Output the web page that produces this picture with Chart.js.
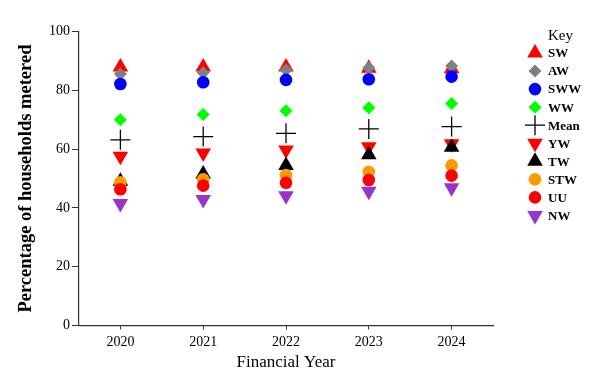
<!DOCTYPE html>
<html>
<head>
<meta charset="utf-8">
<script src="https://cdn.jsdelivr.net/npm/chart.js@4.4.1/dist/chart.umd.min.js"></script>
<style>
  html, body { margin: 0; padding: 0; background: #fff; }
  #wrap { width: 602px; height: 383px; position: relative; }
</style>
</head>
<body>
<div id="wrap"><canvas id="c" width="602" height="383"></canvas></div>
<script>
const years = ['2020', '2021', '2022', '2023', '2024'];
const yTicks = [0, 20, 40, 60, 80, 100];

const SW   = [88.0, 88.0, 88.0, 87.6, 87.4];
const AW   = [85.6, 86.0, 87.0, 87.7, 88.3];
const SWW  = [82.2, 82.8, 83.6, 83.8, 84.7];
const WW   = [70.0, 71.8, 73.1, 74.1, 75.6];
const MEAN = [63.2, 64.3, 65.4, 66.9, 67.7];
const YW   = [57.6, 58.7, 59.7, 60.8, 61.9];
const TW   = [49.1, 51.6, 54.5, 58.1, 60.7];
const STW  = [48.7, 49.8, 51.2, 52.3, 54.5];
const UU   = [46.4, 47.6, 48.6, 49.5, 51.0];
const NW   = [41.5, 42.9, 44.2, 45.7, 46.9];

const series = [
  { label: 'SW',   data: SW,   style: 'triangle', rot: 0,   color: '#FF0000', r: 9 },
  { label: 'AW',   data: AW,   style: 'rectRot',  rot: 0,   color: '#808080', r: 6.5 },
  { label: 'SWW',  data: SWW,  style: 'circle',   rot: 0,   color: '#0000FF', r: 6.3 },
  { label: 'WW',   data: WW,   style: 'rectRot',  rot: 0,   color: '#00FF00', r: 6.5 },
  { label: 'Mean', data: MEAN, style: 'cross',    rot: 0,   color: '#000000', r: 10, bw: 1.3 },
  { label: 'YW',   data: YW,   style: 'triangle', rot: 180, color: '#FF0000', r: 9 },
  { label: 'TW',   data: TW,   style: 'triangle', rot: 0,   color: '#000000', r: 9 },
  { label: 'STW',  data: STW,  style: 'circle',   rot: 0,   color: '#FF9900', r: 6.3 },
  { label: 'UU',   data: UU,   style: 'circle',   rot: 0,   color: '#FF0000', r: 6.3 },
  { label: 'NW',   data: NW,   style: 'triangle', rot: 180, color: '#9933CC', r: 9 }
];

const FONT = "'Liberation Serif', 'Times New Roman', serif";

const datasets = series.map((s, i) => ({
  label: s.label,
  data: s.data,
  showLine: false,
  pointStyle: s.style,
  pointRotation: s.rot,
  pointRadius: s.r,
  pointHoverRadius: s.r,
  pointBackgroundColor: s.color,
  pointBorderColor: s.color,
  pointBorderWidth: s.bw || 0,
  order: series.length - i
}));

function fallbackDrawPoint(ctx, o, x, y) {
  const r = o.radius, rad = (o.rotation || 0) * Math.PI / 180;
  ctx.beginPath();
  if (o.pointStyle === 'circle') {
    ctx.arc(x, y, r, 0, Math.PI * 2);
    ctx.fill();
  } else if (o.pointStyle === 'triangle') {
    let a = rad;
    ctx.moveTo(x + Math.sin(a) * r, y - Math.cos(a) * r);
    a += 2 * Math.PI / 3;
    ctx.lineTo(x + Math.sin(a) * r, y - Math.cos(a) * r);
    a += 2 * Math.PI / 3;
    ctx.lineTo(x + Math.sin(a) * r, y - Math.cos(a) * r);
    ctx.closePath();
    ctx.fill();
  } else if (o.pointStyle === 'rectRot') {
    ctx.moveTo(x, y - r); ctx.lineTo(x + r, y); ctx.lineTo(x, y + r); ctx.lineTo(x - r, y);
    ctx.closePath();
    ctx.fill();
  } else if (o.pointStyle === 'cross') {
    ctx.moveTo(x, y - r); ctx.lineTo(x, y + r);
    ctx.moveTo(x - r, y); ctx.lineTo(x + r, y);
    ctx.stroke();
  }
}

const keyLegend = {
  id: 'keyLegend',
  afterDraw(chart) {
    const ctx = chart.ctx;
    const area = chart.chartArea;
    const markerX = area.right + 42;
    const textX = area.right + 55;
    const firstY = 53;
    const step = 18.05;
    ctx.save();
    ctx.fillStyle = '#000';
    ctx.textBaseline = 'middle';
    ctx.textAlign = 'left';
    ctx.font = "15px " + FONT;
    ctx.fillText('Key', textX, 36);
    const dp = (Chart.helpers && Chart.helpers.drawPoint) ? Chart.helpers.drawPoint : null;
    series.forEach((s, i) => {
      const y = firstY + i * step;
      const opts = {
        pointStyle: s.style, rotation: s.rot, radius: s.r,
        borderWidth: s.bw || 0
      };
      ctx.save();
      ctx.fillStyle = s.color;
      ctx.strokeStyle = s.color;
      ctx.lineWidth = s.bw || 1;
      if (dp) dp(ctx, opts, markerX, y); else fallbackDrawPoint(ctx, opts, markerX, y);
      ctx.restore();
      ctx.fillStyle = '#000';
      ctx.font = "bold 13px " + FONT;
      ctx.fillText(s.label, textX, y + 1);
    });
    ctx.restore();
  }
};

new Chart(document.getElementById('c'), {
  type: 'line',
  data: { labels: years, datasets },
  options: {
    responsive: false,
    animation: false,
    devicePixelRatio: 1,
    layout: { padding: { left: 0, right: 109, top: 31.7, bottom: 0 } },
    plugins: {
      legend: { display: false },
      tooltip: { enabled: false }
    },
    scales: {
      x: {
        type: 'category',
        offset: true,
        afterFit: s => { s.height = 57.5; },
        grid: { display: true, drawOnChartArea: false, drawTicks: true, tickLength: 4, color: '#333', offset: false },
        border: { display: true, color: '#333', width: 1.2 },
        ticks: { color: '#000', font: { family: FONT, size: 14 }, padding: 4, maxRotation: 0 },
        title: { display: true, text: 'Financial Year', color: '#000',
                 font: { family: FONT, size: 17 }, padding: { top: 0, bottom: 10 } }
      },
      y: {
        min: 0, max: 100,
        afterFit: s => { s.width = 79; },
        afterBuildTicks: s => { s.ticks = yTicks.map(v => ({ value: v })); },
        grid: { display: true, drawOnChartArea: false, drawTicks: true, tickLength: 7, color: '#333' },
        border: { display: true, color: '#333', width: 1.2 },
        ticks: { color: '#000', font: { family: FONT, size: 14 }, padding: 2 },
        title: { display: true, text: 'Percentage of households metered', color: '#000',
                 font: { family: FONT, size: 18.5, weight: 'bold' }, padding: { top: 15, bottom: 0 } }
      }
    }
  },
  plugins: [keyLegend]
});
</script>
</body>
</html>
